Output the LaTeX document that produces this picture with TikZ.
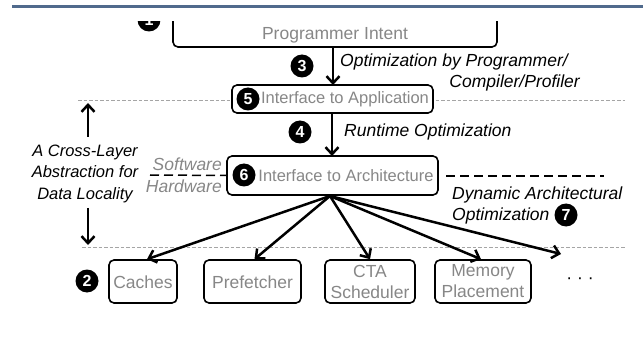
\documentclass[tikz,border=0pt]{standalone}
\usepackage{fontspec}
\setmainfont{Liberation Sans}
\usetikzlibrary{arrows.meta}
\definecolor{lbl}{RGB}{135,135,135}
\definecolor{gline}{RGB}{165,165,165}
\definecolor{barc}{RGB}{80,106,140}
\tikzset{
  boxst/.style={draw=black, line width=1.6pt, rounded corners=5pt, fill=white, inner sep=0pt},
  lbltxt/.style={text=lbl, font=\fontsize{16.5}{19}\selectfont, inner sep=0pt},
  bottxt/.style={text=lbl, font=\fontsize{17.5}{21}\selectfont, align=center, inner sep=0pt},
  ittxt/.style={text=black, font=\fontsize{17.5}{21}\selectfont\itshape, inner sep=0pt},
  numc/.style={circle, fill=black, text=white, inner sep=0pt, minimum size=23pt, font=\fontsize{16}{16}\selectfont\bfseries},
  arr/.style={line width=2.5pt, -{Straight Barb[length=7pt,width=13pt]}},
  gdash/.style={draw=gline, line width=1pt, dash pattern=on 3.5pt off 2pt},
  bdash/.style={draw=black, line width=1.5pt, dash pattern=on 9pt off 5pt}
}
\begin{document}
\begin{tikzpicture}[x=1pt, y=-1pt]
\useasboundingbox (0,0) rectangle (643,342);
% top bar
\coordinate (barL) at (12,6.5);
\coordinate (barR) at (643,6.5);
\draw[barc, line width=3.5pt] (barL) -- (barR);

\begin{scope}
\clip (0,22) rectangle (643,342);
% grey dashed layer lines
\coordinate (g1a) at (78,101);
\coordinate (g1b) at (625,101);
\coordinate (g2a) at (82,247);
\coordinate (g2b) at (625,247);
\draw[gdash] (g1a) -- (g1b);
\draw[gdash] (g2a) -- (g2b);

% top box
\node[boxst, minimum width=324pt, minimum height=40pt] (intent) at (335,27) {};
\node[lbltxt, font=\fontsize{17.5}{21}\selectfont] (intenttxt) at (335,35) {Programmer Intent};
\node[numc] (n1) at (149,20) {1};

% application interface
\node[boxst, minimum width=201pt, minimum height=28pt] (app) at (332.5,99) {};
\node[lbltxt] (apptxt) at (345,99) {Interface to Application};
\node[numc] (n5) at (248,99) {5};

% architecture interface
\node[boxst, minimum width=211pt, minimum height=39pt] (arch) at (332.5,175.5) {};
\node[lbltxt] (archtxt) at (346,175.5) {Interface to Architecture};
\node[numc] (n6) at (244,175) {6};

% arrows 3 and 4
\coordinate (a3s) at (333,47);
\coordinate (a3e) at (333,85);
\draw[arr] (a3s) -- (a3e);
\node[numc] (n3) at (302,66) {3};
\node[ittxt, anchor=west] (opt1) at (340,62) {Optimization by Programmer/};
\node[ittxt, anchor=east] (opt2) at (580,83) {Compiler/Profiler};

\coordinate (a4s) at (332,113);
\coordinate (a4e) at (332,156);
\draw[arr] (a4s) -- (a4e);
\node[numc] (n4) at (300,132) {4};
\node[ittxt, anchor=west] (rt) at (344,132) {Runtime Optimization};

% software / hardware
\node[ittxt, text=lbl, anchor=east] (sw) at (222,164) {Software};
\node[ittxt, text=lbl, anchor=east] (hw) at (222,186) {Hardware};
\coordinate (swl) at (150,175);
\draw[bdash] (swl) -- (arch.west);
\coordinate (dr1) at (446,176);
\coordinate (dr2) at (604,176);
\draw[bdash] (dr1) -- (dr2);

\node[ittxt, anchor=west] (dyn1) at (452,195) {Dynamic Architectural};
\node[ittxt, anchor=west] (dyn2) at (452,216) {Optimization};
\node[numc] (n7) at (566,215) {7};

% left abstraction label
\node[ittxt, align=center, font=\fontsize{16.5}{21.5}\selectfont\itshape] (abs) at (85,173.5) {A Cross-Layer\\Abstraction for\\Data Locality};
\coordinate (up1) at (88,137);
\coordinate (up2) at (88,103);
\draw[arr] (up1) -- (up2);
\coordinate (dn1) at (88,208);
\coordinate (dn2) at (88,245);
\draw[arr] (dn1) -- (dn2);

% bottom boxes
\node[boxst, minimum width=68pt, minimum height=43pt] (caches) at (143,281.5) {};
\node[bottxt] (cachestxt) at (143,282) {Caches};
\node[boxst, minimum width=97pt, minimum height=43pt] (pref) at (252.5,281.5) {};
\node[bottxt] (preftxt) at (252.5,282) {Prefetcher};
\node[boxst, minimum width=90pt, minimum height=43pt] (cta) at (370,281.5) {};
\node[bottxt] (ctatxt) at (370,281.5) {CTA\\Scheduler};
\node[boxst, minimum width=96pt, minimum height=43pt] (mem) at (483,281.5) {};
\node[bottxt] (memtxt) at (483,281.5) {Memory\\Placement};
\node[numc] (n2) at (87,281) {2};
\node[bottxt, text=black] (dots) at (580,281) {·\hspace{5pt}·\hspace{5pt}·};

% fan of arrows
\coordinate (fan) at (330,196);
\coordinate (dotsend) at (561,254);
\draw[arr] (fan) -- ([xshift=4pt]caches.north);
\draw[arr] (fan) -- ([xshift=2pt]pref.north);
\draw[arr] (fan) -- (cta.north);
\draw[arr] (fan) -- ([xshift=-2pt]mem.north);
\draw[arr] (fan) -- (dotsend);
\end{scope}
\end{tikzpicture}
\end{document}
